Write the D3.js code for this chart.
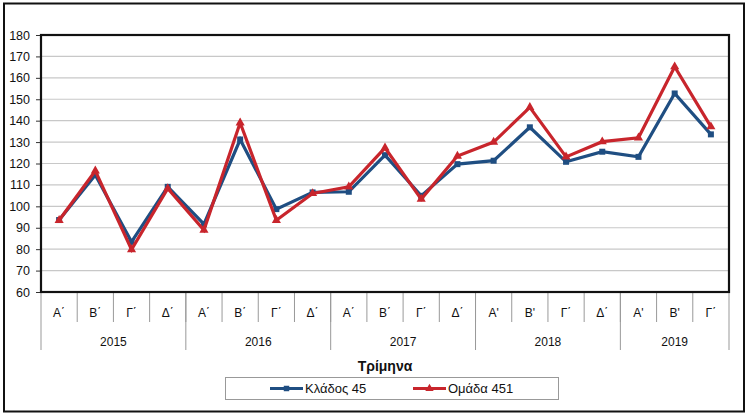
<!DOCTYPE html>
<html>
<head>
<meta charset="utf-8">
<script src="https://cdn.jsdelivr.net/npm/d3@7"></script>
<style>
  body { margin: 0; background: #fff; }
  svg { display: block; font-family: "Liberation Sans", Arial, sans-serif; }
</style>
</head>
<body>
<div id="chart"></div>
<script>
// δεδομένα
const quarters = ["Α΄","Β΄","Γ΄","Δ΄","Α΄","Β΄","Γ΄","Δ΄","Α΄","Β΄","Γ΄","Δ΄","Α'","Β'","Γ΄","Δ΄","Α'","Β'","Γ΄"];
const years = ["2015","2016","2017","2018","2019"];
const quartersPerYear = [4, 4, 4, 4, 3];
const klados45 = [93.6,114.6,83.4,109.1,91.7,131.2,98.7,106.5,106.8,123.9,104.9,119.7,121.3,136.9,120.8,125.5,123.1,152.7,133.6];
const omada451 = [93.5,116.6,79.8,108.3,88.9,139.0,93.5,106.0,109.1,127.3,103.4,123.5,130.0,146.2,123.1,130.2,132.0,165.2,137.2];
const yTicks = [60,70,80,90,100,110,120,130,140,150,160,170,180];

const W = 750, H = 415;
const margin = {top: 35, right: 21, bottom: 123, left: 41};
const width = W - margin.left - margin.right;
const height = H - margin.top - margin.bottom;

const svg = d3.select("#chart").append("svg")
    .attr("width", W)
    .attr("height", H);

// εξωτερικό πλαίσιο
svg.append("rect")
    .attr("x", 4).attr("y", 3.5)
    .attr("width", 740).attr("height", 408)
    .attr("fill", "#fff")
    .attr("stroke", "#111").attr("stroke-width", 2);

const g = svg.append("g")
    .attr("transform", `translate(${margin.left},${margin.top})`);

const idx = d3.range(quarters.length);
const x = d3.scaleBand().domain(idx).range([0, width]).padding(0);
const y = d3.scaleLinear().domain([60, 180]).range([height, 0]);
const cx = i => x(i) + x.bandwidth() / 2;

// γραμμές πλέγματος
g.selectAll(".grid")
    .data(yTicks.slice(1, -1))
    .enter().append("line")
    .attr("x1", 0).attr("x2", width)
    .attr("y1", d => y(d)).attr("y2", d => y(d))
    .attr("stroke", "#c8c8c8").attr("stroke-width", 1.2);

// άξονας y
const yAxis = g.append("g")
    .call(d3.axisLeft(y).tickValues(yTicks).tickSize(5).tickPadding(6));
yAxis.select(".domain").remove();
yAxis.selectAll(".tick line").attr("stroke", "#333");
yAxis.selectAll("text").attr("font-size", 12.5).attr("fill", "#111");

// κατηγορίες στον άξονα x
const qSep = g.append("g").attr("transform", `translate(0,${height})`);
idx.slice(1).forEach(i => {
    qSep.append("line")
        .attr("x1", x(i)).attr("x2", x(i))
        .attr("y1", 0).attr("y2", 30)
        .attr("stroke", "#999").attr("stroke-width", 1);
});
qSep.selectAll(".qlab")
    .data(quarters)
    .enter().append("text")
    .attr("x", (d, i) => cx(i))
    .attr("y", 25)
    .attr("text-anchor", "middle")
    .attr("font-size", 12)
    .attr("fill", "#111")
    .text(d => d);

// έτη
let start = 0;
const yearBounds = [0];
quartersPerYear.forEach(n => { start += n; yearBounds.push(start); });
yearBounds.forEach(b => {
    const xp = b < quarters.length ? x(b) : width;
    qSep.append("line")
        .attr("x1", xp).attr("x2", xp)
        .attr("y1", 0).attr("y2", 58)
        .attr("stroke", "#999").attr("stroke-width", 1);
});
years.forEach((yr, k) => {
    const a = yearBounds[k], b = yearBounds[k + 1];
    const x0 = x(a), x1 = b < quarters.length ? x(b) : width;
    qSep.append("text")
        .attr("x", (x0 + x1) / 2)
        .attr("y", 54)
        .attr("text-anchor", "middle")
        .attr("font-size", 12)
        .attr("fill", "#111")
        .text(yr);
});

// τίτλος άξονα
g.append("text")
    .attr("x", width / 2)
    .attr("y", height + 79)
    .attr("text-anchor", "middle")
    .attr("font-size", 14)
    .attr("font-weight", "bold")
    .attr("fill", "#111")
    .text("Τρίμηνα");

// γραμμές
const line = d3.line().x((d, i) => cx(i)).y(d => y(d));
const series = [
    {name: "Κλάδος 45", values: klados45, color: "#1f4e82", marker: d3.symbolSquare},
    {name: "Ομάδα 451", values: omada451, color: "#c8252c", marker: d3.symbolTriangle}
];
series.forEach(s => {
    g.append("path")
        .datum(s.values)
        .attr("fill", "none")
        .attr("stroke", s.color)
        .attr("stroke-width", 3.2)
        .attr("stroke-linejoin", "miter")
        .attr("d", line);
    g.selectAll(null)
        .data(s.values)
        .enter().append("path")
        .attr("transform", (d, i) => `translate(${cx(i)},${y(d)})`)
        .attr("d", d3.symbol().type(s.marker).size(36))
        .attr("fill", s.color);
});

// πλαίσιο περιοχής σχεδίασης
g.append("rect")
    .attr("x", 0).attr("y", 0)
    .attr("width", width).attr("height", height)
    .attr("fill", "none")
    .attr("stroke", "#111").attr("stroke-width", 2.2);

// υπόμνημα
const leg = svg.append("g");
leg.append("rect")
    .attr("x", 225.5).attr("y", 377.5)
    .attr("width", 333).attr("height", 22)
    .attr("fill", "#fff")
    .attr("stroke", "#999").attr("stroke-width", 1);
const legX = [270, 413];
series.forEach((s, k) => {
    const lx = legX[k];
    leg.append("line")
        .attr("x1", lx).attr("x2", lx + 33)
        .attr("y1", 388.5).attr("y2", 388.5)
        .attr("stroke", s.color).attr("stroke-width", 3.2);
    leg.append("path")
        .attr("transform", `translate(${lx + 16.5},388.5)`)
        .attr("d", d3.symbol().type(s.marker).size(30))
        .attr("fill", s.color);
    leg.append("text")
        .attr("x", lx + 35)
        .attr("y", 393)
        .attr("font-size", 13)
        .attr("fill", "#111")
        .text(s.name);
});
</script>
</body>
</html>
